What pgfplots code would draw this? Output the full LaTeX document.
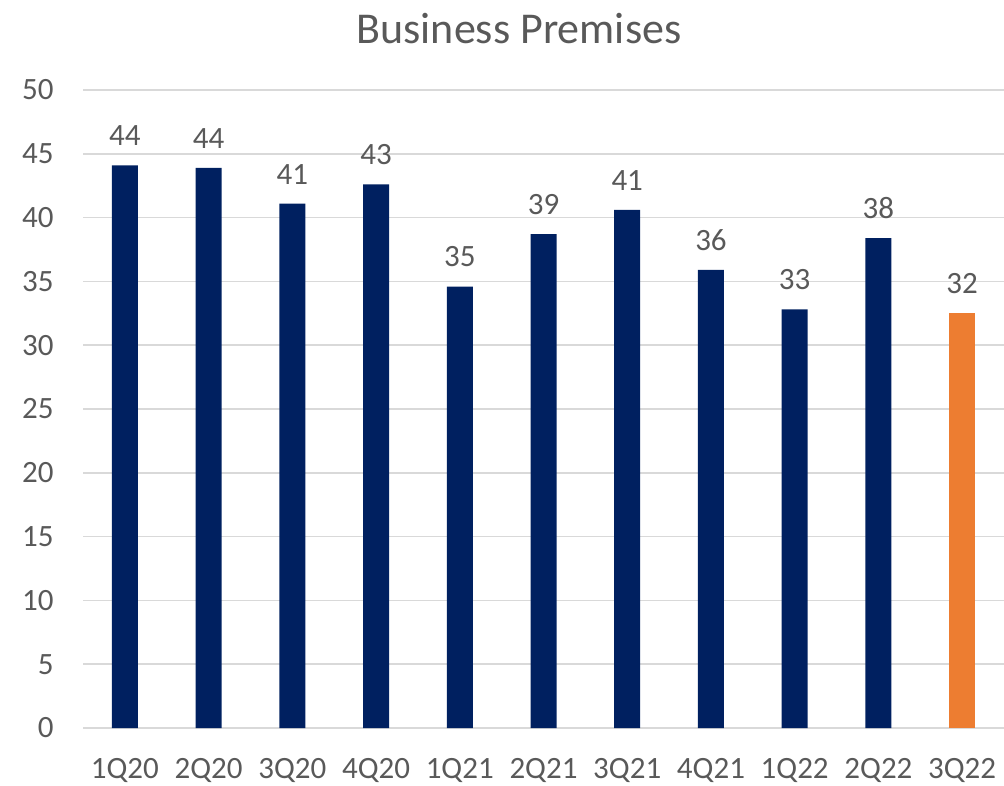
\documentclass[border=0pt]{standalone}
\usepackage{fontspec}
\setmainfont{Carlito}
\usepackage{pgfplots}
\pgfplotsset{compat=1.18}
\definecolor{navy}{RGB}{0,32,96}
\definecolor{orng}{RGB}{237,125,49}
\definecolor{txt}{RGB}{89,89,89}
\definecolor{grd}{RGB}{217,217,217}
\begin{document}
\begin{tikzpicture}[x=1pt,y=1pt]
\useasboundingbox (0,0) rectangle (1004,785);
\node[text=txt,font=\fontsize{44}{50}\selectfont] at (519,756) {Business Premises};
\begin{axis}[
  at={(83pt,57pt)}, anchor=south west,
  scale only axis, width=921pt, height=638pt,
  xmin=-0.5, xmax=10.5, ymin=0, ymax=50,
  ytick={0,5,...,50},
  xtick={0,...,10},
  xticklabels={1Q20,2Q20,3Q20,4Q20,1Q21,2Q21,3Q21,4Q21,1Q22,2Q22,3Q22},
  axis line style={draw=none},
  major tick length=0pt,
  ymajorgrids, grid style={grd, line width=1.5pt},
  tick label style={text=txt, font=\fontsize{31}{34}\selectfont},
  /pgf/number format/assume math mode=true,
  yticklabel style={xshift=-26pt},
  xticklabel style={yshift=-27pt},
  ybar, bar width=26pt, bar shift=0pt,
  nodes near coords,
  point meta=explicit symbolic,
  every node near coord/.append style={text=txt, font=\fontsize{31}{34}\selectfont, yshift=16pt},
  axis on top=false,
]
\addplot[fill=navy, draw=none] coordinates {
 (0,44.1) [44] (1,43.9) [44] (2,41.1) [41] (3,42.6) [43] (4,34.6) [35]
 (5,38.7) [39] (6,40.6) [41] (7,35.9) [36] (8,32.8) [33] (9,38.4) [38]};
\addplot[fill=orng, draw=none] coordinates {(10,32.5) [32]};
\end{axis}
\end{tikzpicture}
\end{document}
